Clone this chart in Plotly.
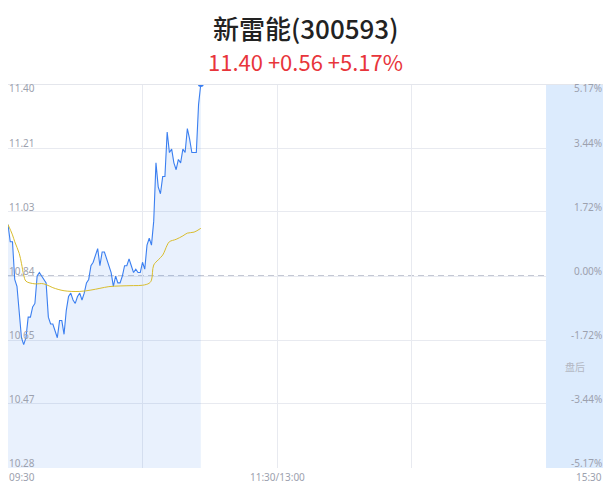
import plotly.graph_objects as go

# 新雷能(300593) intraday, one price per minute from 09:30
prev_close = 10.84
price = [10.99, 10.94, 10.94, 10.83, 10.81, 10.72, 10.66, 10.64, 10.66, 10.72,
         10.72, 10.75, 10.76, 10.84, 10.85, 10.84, 10.83, 10.82, 10.72, 10.70,
         10.70, 10.68, 10.66, 10.71, 10.71, 10.67, 10.74, 10.78, 10.79, 10.77,
         10.76, 10.78, 10.79, 10.77, 10.79, 10.82, 10.83, 10.87, 10.88, 10.90,
         10.92, 10.87, 10.91, 10.91, 10.89, 10.87, 10.85, 10.81, 10.84, 10.82,
         10.82, 10.84, 10.87, 10.87, 10.89, 10.87, 10.85, 10.86, 10.85, 10.85,
         10.88, 10.86, 10.93, 10.95, 10.93, 11.00, 11.17, 11.10, 11.08, 11.13,
         11.13, 11.26, 11.20, 11.21, 11.17, 11.15, 11.18, 11.17, 11.21, 11.20,
         11.27, 11.24, 11.20, 11.20, 11.20, 11.34, 11.40]
minutes = list(range(len(price)))

# average price line (minute, value)
avg_minutes = [0, 2, 3, 5, 6, 7, 8, 11, 13, 15, 17, 20, 25, 32, 37, 41, 45,
               50, 56, 60, 63, 64, 65, 67, 69, 71, 72, 75, 78, 80, 83, 86]
avg_values = [10.99, 10.96, 10.94, 10.906, 10.877, 10.843, 10.825, 10.818,
              10.817, 10.818, 10.815, 10.806, 10.797, 10.795, 10.799, 10.804,
              10.809, 10.811, 10.812, 10.813, 10.819, 10.828, 10.872, 10.887,
              10.901, 10.93, 10.94, 10.947, 10.957, 10.965, 10.968, 10.979]

y_levels = [11.40, 11.21, 11.03, 10.84, 10.65, 10.47, 10.28]
y_vals = [11.40, 11.2133, 11.0267, 10.84, 10.6533, 10.4667, 10.28]
pct_labels = ["5.17%", "3.44%", "1.72%", "0.00%", "-1.72%", "-3.44%", "-5.17%"]
grid_minutes = [0, 60, 120, 180, 240]
x_end = 265.4

fig = go.Figure()

fig.add_trace(go.Scatter(x=minutes, y=price, mode="lines",
                         line=dict(color="#3b7ff0", width=1.1),
                         fill="tozeroy", fillcolor="rgba(59,127,240,0.11)",
                         hoverinfo="skip"))
fig.add_trace(go.Scatter(x=avg_minutes, y=avg_values, mode="lines",
                         line=dict(color="#d9bd2e", width=1, shape="spline"),
                         hoverinfo="skip"))
fig.add_trace(go.Scatter(x=[minutes[-1]], y=[price[-1]], mode="markers",
                         marker=dict(color="#3b7ff0", size=6),
                         hoverinfo="skip"))

shapes = [
    # after-hours band
    dict(type="rect", xref="x", yref="y", x0=240, x1=x_end, y0=10.28, y1=11.40,
         fillcolor="#dcebfd", line=dict(width=0), layer="between"),
    dict(type="line", xref="paper", yref="y", x0=0, x1=1, y0=prev_close, y1=prev_close,
         line=dict(color="#8890a8", width=1, dash="6px,4px"), layer="between"),
    dict(type="line", xref="paper", yref="y", x0=0, x1=1.0135, y0=11.40, y1=11.40,
         line=dict(color="#e4e6ec", width=2)),
]

annotations = []
font_small = dict(family="Noto Sans, DejaVu Sans", size=10, color="#9ca1ae")
for i, (lv, yv, pc) in enumerate(zip(y_levels, y_vals, pct_labels)):
    anchor = "top" if i == 0 else "bottom"
    shift = 5 if i == 0 else -4
    annotations.append(dict(xref="paper", yref="y", x=0, y=yv, text=f"{lv:.2f}",
                            showarrow=False, xanchor="left", yanchor=anchor,
                            font=font_small, xshift=-1, yshift=shift))
    annotations.append(dict(xref="paper", yref="y", x=1, y=yv, text=pc,
                            showarrow=False, xanchor="right", yanchor=anchor,
                            font=font_small, xshift=1, yshift=shift))

annotations += [
    dict(xref="paper", yref="paper", x=0, y=0, text="09:30", showarrow=False,
         xanchor="left", yanchor="top", font=font_small, xshift=-1),
    dict(xref="x", yref="paper", x=120, y=0, text="11:30/13:00", showarrow=False,
         xanchor="center", yanchor="top", font=font_small),
    dict(xref="paper", yref="paper", x=1, y=0, text="15:30", showarrow=False,
         xanchor="right", yanchor="top", font=font_small, xshift=1),
    dict(xref="x", yref="y", x=253, y=10.577, text="盘后", showarrow=False,
         font=dict(family="Noto Sans CJK SC", size=10, color="#b3b7c2")),
    dict(xref="paper", yref="paper", x=0.5, y=1.148, text="新雷能(300593)",
         showarrow=False, xanchor="center", yanchor="middle",
         font=dict(family="Noto Sans CJK SC", size=26, color="#222222", weight=500)),
    dict(xref="paper", yref="paper", x=0.5, y=1.06, text="11.40 +0.56 +5.17%",
         showarrow=False, xanchor="center", yanchor="middle",
         font=dict(family="Noto Sans CJK SC", size=22, color="#e8353b")),
]

# the page body has an 8px margin, so the figure is sized to fit the window
fig.update_layout(
    width=603, height=484,
    margin=dict(l=0, r=8, t=76, b=24),
    paper_bgcolor="white", plot_bgcolor="white",
    showlegend=False,
    shapes=shapes, annotations=annotations,
    xaxis=dict(range=[0, x_end], tickvals=grid_minutes, showticklabels=False,
               showgrid=True, gridcolor="#e8eaf0", gridwidth=1, zeroline=False,
               showline=False, fixedrange=True),
    yaxis=dict(range=[10.28, 11.40], tickvals=y_vals, showticklabels=False,
               showgrid=True, gridcolor="#e8eaf0", gridwidth=1, zeroline=False,
               showline=False, fixedrange=True),
)

fig.write_html("out.html")
